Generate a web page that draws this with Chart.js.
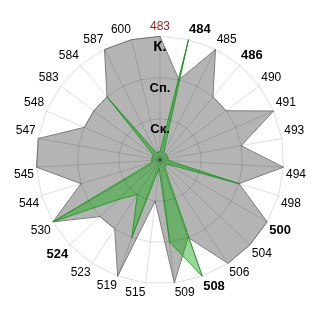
<!DOCTYPE html>
<html>
<head>
<meta charset="utf-8">
<script src="https://cdn.jsdelivr.net/npm/chart.js@4/dist/chart.umd.min.js"></script>
<style>
  html, body { margin: 0; padding: 0; background: #fff; }
  #wrap { width: 320px; height: 320px; }
</style>
</head>
<body>
<div id="wrap"><canvas id="radar" width="320" height="320"></canvas></div>
<script>
// categories around the circle, clockwise from the top
const categories = ['483', '484', '485', '486', '490', '491', '493', '494', '498',
  '500', '504', '506', '508', '509', '515', '519', '523', '524', '530',
  '544', '545', '547', '548', '583', '584', '587', '600'];

// gray area series
const grayValues = [3, 2, 3, 2, 2, 3, 2, 3, 2,
  3, 3, 3, 2, 3, 1, 3, 2, 2, 3,
  2, 3, 3, 2, 2, 2, 3, 3];

// green series (small values sit near the centre)
const greenValues = [0.2, 3, 0.2, 0.2, 0.2, 0.2, 0.2, 0.2, 2,
  0.2, 0.2, 0.2, 3, 2, 0.2, 2, 1, 1.4, 3,
  0.2, 0.2, 0.2, 0.2, 0.2, 2, 0.2, 0.2];

// radial level names (0..3)
const levelLabels = ['', 'Ск.', 'Сп.', 'К.'];

// categories written in bold, and the one written in red
const boldCategories = ['484', '486', '500', '508', '524'];
const redCategory = '483';

const fontFamily = '"Liberation Sans", Arial, sans-serif';

const ctx = document.getElementById('radar').getContext('2d');
const radarChart = new Chart(ctx, {
  type: 'radar',
  data: {
    labels: categories,
    datasets: [
      {
        label: 'gray',
        data: grayValues,
        order: 1,
        backgroundColor: 'rgb(180, 180, 180)',
        borderColor: 'rgb(125, 125, 125)',
        borderWidth: 1,
        pointRadius: 0,
        fill: true
      },
      {
        label: 'green',
        data: greenValues,
        order: 0,
        backgroundColor: 'rgba(20, 170, 20, 0.45)',
        borderColor: 'rgb(40, 160, 40)',
        borderWidth: 1,
        pointRadius: 0,
        fill: true
      }
    ]
  },
  options: {
    responsive: false,
    animation: false,
    layout: { padding: 14 },
    plugins: {
      legend: { display: false },
      tooltip: { enabled: false }
    },
    elements: { line: { tension: 0 } },
    scales: {
      r: {
        z: 1,
        min: 0,
        max: 3,
        beginAtZero: true,
        grid: { z: 1, color: 'rgba(0, 0, 0, 0.13)', lineWidth: 1 },
        angleLines: { color: 'rgba(0, 0, 0, 0.13)', lineWidth: 1 },
        ticks: {
          z: 2,
          stepSize: 1,
          showLabelBackdrop: false,
          color: '#000',
          font: (c) => ({
            family: fontFamily,
            size: c.index === 3 ? 15 : 13,
            weight: 'bold',
            lineHeight: '11px'
          }),
          callback: (value) => ['', levelLabels[value] || '']
        },
        pointLabels: {
          padding: -6,
          color: (c) => {
            if (c.label === redCategory) return '#9b1c1c';
            return '#000';
          },
          font: (c) => {
            const bold = boldCategories.includes(c.label);
            return {
              family: fontFamily,
              size: bold ? 13 : 12,
              weight: bold ? 'bold' : 'normal'
            };
          }
        }
      }
    }
  }
});
</script>
</body>
</html>
